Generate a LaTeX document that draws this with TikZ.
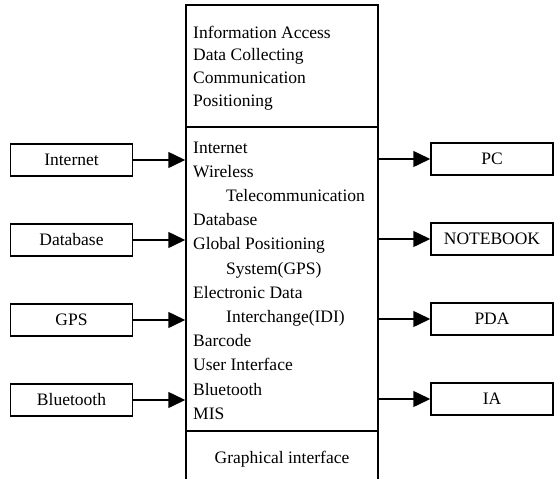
\documentclass[tikz,border=0pt]{standalone}
\usepackage{fontspec}
\setmainfont{Liberation Serif}
\usetikzlibrary{arrows.meta}
\tikzset{
  frame/.style={draw, line width=1.5pt, rectangle, inner sep=0pt},
  sidebox/.style={frame, minimum width=122pt, minimum height=32pt,
    font=\fontsize{17.5}{21}\selectfont},
  item/.style={anchor=base west, inner sep=0pt, font=\fontsize{17.5}{21}\selectfont},
  link/.style={line width=1.5pt, -{Triangle[length=17pt,width=16pt]}}
}
\begin{document}
\begin{tikzpicture}[x=1pt,y=-1pt]
\clip (0,0) rectangle (554,479);
% central column: three stacked cells
\node[frame, minimum width=192pt, minimum height=122pt] (top) at (282,66) {};
\node[frame, minimum width=192pt, minimum height=304pt] (mid) at (282,279) {};
\node[frame, minimum width=192pt, minimum height=50pt] (bot) at (282,456) {};

% top cell text
\node[item] (t1) at (193,38) {Information Access};
\node[item] (t2) at (193,60.7) {Data Collecting};
\node[item] (t3) at (193,83.4) {Communication};
\node[item] (t4) at (193,106) {Positioning};

% middle cell list
\foreach \txt/\xx [count=\k from 0] in {
  Internet/193, Wireless/193, Telecommunication/226, Database/193,
  Global Positioning/193, System(GPS)/226, Electronic Data/193,
  Interchange(IDI)/226, Barcode/193, User Interface/193,
  Bluetooth/193, MIS/193} {
  \node[item] (m\k) at (\xx,153+24.2*\k) {\txt};
}

% bottom cell
\node[anchor=base, inner sep=0pt, font=\fontsize{17.5}{21}\selectfont] (g) at (282,463) {Graphical interface};

% inputs on the left
\node[sidebox] (inet) at (71.5,160) {Internet};
\node[sidebox] (db)   at (71.5,240) {Database};
\node[sidebox] (gps)  at (71.5,320) {GPS};
\node[sidebox] (bt)   at (71.5,400) {Bluetooth};

% outputs on the right
\node[sidebox] (pc)  at (492,159) {PC};
\node[sidebox] (nb)  at (492,239) {NOTEBOOK};
\node[sidebox] (pda) at (492,319) {PDA};
\node[sidebox] (ia)  at (492,399) {IA};

\foreach \s in {inet,db,gps,bt}
  \draw[link] (\s.east) -- (\s.east -| mid.west);
\foreach \s in {pc,nb,pda,ia}
  \draw[link] (\s.west -| mid.east) -- (\s.west);
\end{tikzpicture}
\end{document}
